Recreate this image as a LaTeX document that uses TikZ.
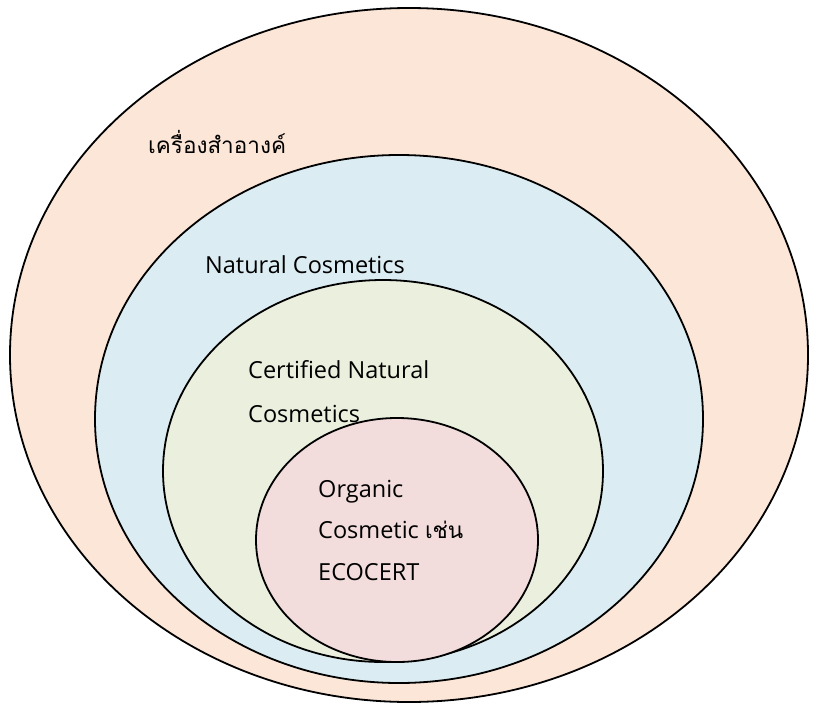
\documentclass[tikz,border=0pt]{standalone}
\usepackage{fontspec}
\setmainfont{Open Sans}
\newfontfamily\thaifont[Script=Thai]{Loma}
\usetikzlibrary{shapes.geometric}
\definecolor{OuterPeach}{RGB}{252, 230, 216}
\definecolor{NaturalBlue}{RGB}{219, 237, 243}
\definecolor{CertGreen}{RGB}{235, 240, 222}
\definecolor{OrganicPink}{RGB}{242, 220, 220}

\tikzset{
  set/.style={ellipse, draw, line width=1.8pt, inner sep=0pt},
  label/.style={anchor=base west, font=\fontsize{23.5}{42}\selectfont, inner sep=0pt}
}
\newcommand{\thaitext}[1]{{\thaifont\fontsize{22.5}{42}\selectfont #1}}

\begin{document}
\begin{tikzpicture}[x=1pt, y=-1pt]
      \useasboundingbox (0,0) rectangle (819,704);

      % Nested sets
      \node[set, fill=OuterPeach, minimum width=798pt, minimum height=694pt] (cosmetics) at (409,355) {};
      \node[set, fill=NaturalBlue, minimum width=608pt, minimum height=528pt] (natural) at (399,419) {};
      \node[set, fill=CertGreen, minimum width=440pt, minimum height=382pt] (certified) at (383,471) {};
      \node[set, fill=OrganicPink, minimum width=282pt, minimum height=244pt] (organic) at (397,540) {};

      % Labels
      \node[label] (cosmeticsText) at (148,153) {\thaitext{เครื่องสำอางค์}};
      \node[label] (naturalText) at (205,273) {Natural Cosmetics};
      \node[label] (certifiedText) at (248,378) {Certified Natural};
      \node[label] (certifiedText2) at (248,422) {Cosmetics};
      \node[label] (organicText) at (318,497) {Organic};
      \node[label] (organicText2) at (318,538) {Cosmetic \thaitext{เช่น}};
      \node[label] (organicText3) at (318,580) {ECOCERT};
    \end{tikzpicture}
\end{document}
